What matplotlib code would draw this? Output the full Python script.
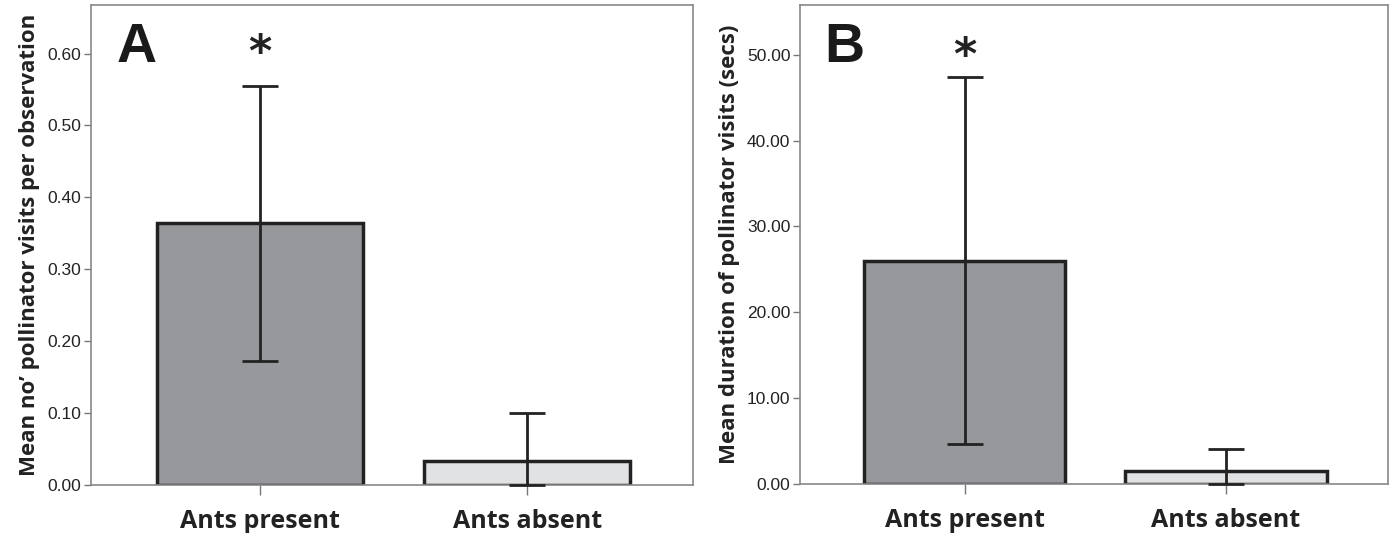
import numpy as np
import matplotlib.pyplot as plt

# Data
groups = ["Ants present", "Ants absent"]

visits_mean = [0.364, 0.034]
visits_lo = [0.173, 0.0]
visits_hi = [0.555, 0.100]

duration_mean = [26.0, 1.5]
duration_lo = [4.6, 0.0]
duration_hi = [47.4, 4.1]

bar_colors = ["#97989c", "#e1e2e4"]
edge = "#222222"

fig = plt.figure(figsize=(13.95, 5.33), dpi=100)
axA = fig.add_axes([0.0652, 0.090, 0.4316, 0.9006])
axB = fig.add_axes([0.5735, 0.092, 0.4215, 0.8986])


def panel(ax, means, lo, hi, ylim, ticks, fmt, ylabel, letter, star_y):
    x = np.arange(len(groups))
    ax.bar(x, means, width=0.77, color=bar_colors, edgecolor=edge,
           linewidth=2.5, zorder=2)
    means = np.array(means)
    yerr = [means - np.array(lo), np.array(hi) - means]
    ax.errorbar(x, means, yerr=yerr, fmt="none", ecolor=edge,
                elinewidth=2.0, capsize=13, capthick=2.0, zorder=3,
                clip_on=False)
    ax.set_xlim(-0.63, 1.62)
    ax.set_ylim(*ylim)
    ax.set_yticks(ticks)
    ax.set_yticklabels([fmt.format(t) for t in ticks],
                       fontsize=12.5, fontfamily="Liberation Sans", color="#222")
    ax.set_xticks(x)
    ax.set_xticklabels(groups, fontsize=18, fontweight="bold",
                       fontfamily="Open Sans", color="#222")
    ax.tick_params(axis="y", direction="out", length=5, width=1,
                   color="#777", pad=2)
    ax.tick_params(axis="x", direction="out", length=7, width=1,
                   color="#777", pad=10)
    for s in ax.spines.values():
        s.set_color("#888")
        s.set_linewidth(1.2)
    ax.set_ylabel(ylabel, fontsize=16, fontweight="bold",
                  fontfamily="Open Sans", color="#222", labelpad=5)
    ax.text(0.076, 0.91, letter, transform=ax.transAxes, fontsize=40,
            fontweight="bold", fontfamily="Liberation Sans", color="#1a1a1a",
            ha="center", va="center")
    ax.text(0, star_y, "*", fontsize=32, fontweight="bold", ha="center",
            va="center", color="#222", fontfamily="DejaVu Sans")


panel(axA, visits_mean, visits_lo, visits_hi, (0, 0.6675),
      [0, 0.1, 0.2, 0.3, 0.4, 0.5, 0.6], "{:.2f}",
      "Mean no\u2019 pollinator visits per observation", "A", 0.60)
panel(axB, duration_mean, duration_lo, duration_hi, (0, 55.8),
      [0, 10, 20, 30, 40, 50], "{:.2f}",
      "Mean duration of pollinator visits (secs)", "B", 49.8)

fig.savefig("out.png", dpi=100)
